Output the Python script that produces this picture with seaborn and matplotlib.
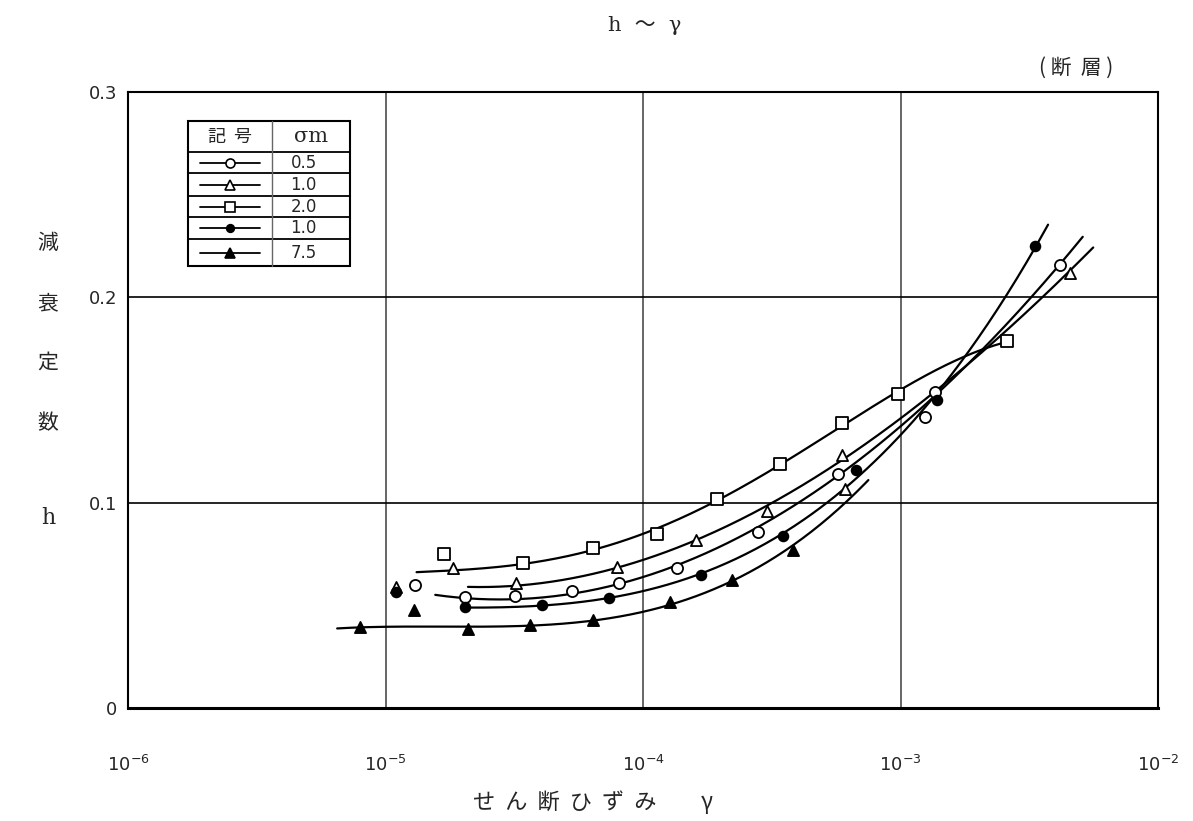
import numpy as np
import pandas as pd
import matplotlib
matplotlib.use('Agg')
import matplotlib.pyplot as plt
from matplotlib.patches import Rectangle
import seaborn as sns

# sigma_m of each series, in legend order
sigma_m = ["0.5", "1.0", "2.0", "1.0", "7.5"]

# points lying on the drawn curves (shear strain, damping h)
circ_x = [2.04e-5, 3.18e-5, 5.3e-5, 8.1e-5, 1.36e-4, 2.8e-4, 5.7e-4, 1.36e-3, 4.16e-3]
circ_y = [0.054, 0.0545, 0.057, 0.061, 0.068, 0.0856, 0.114, 0.1538, 0.216]
tri_x = [3.21e-5, 7.9e-5, 1.61e-4, 3.03e-4, 5.9e-4, 4.55e-3]
tri_y = [0.061, 0.0686, 0.0817, 0.0959, 0.123, 0.212]
sq_x = [3.42e-5, 6.4e-5, 1.13e-4, 1.94e-4, 3.4e-4, 5.93e-4, 9.8e-4, 2.59e-3]
sq_y = [0.0706, 0.078, 0.0847, 0.102, 0.119, 0.1387, 0.1528, 0.1786]
fcirc_x = [2.04e-5, 4.06e-5, 7.4e-5, 1.68e-4, 3.5e-4, 6.7e-4, 1.39e-3, 3.33e-3]
fcirc_y = [0.049, 0.050, 0.0535, 0.065, 0.084, 0.116, 0.150, 0.225]
ftri_x = [7.96e-6, 2.09e-5, 3.64e-5, 6.4e-5, 1.27e-4, 2.22e-4, 3.83e-4]
ftri_y = [0.0394, 0.0384, 0.0404, 0.0428, 0.0516, 0.0623, 0.077]

# scattered points not on the curves
circ_off_x, circ_off_y = [1.30e-5, 1.24e-3], [0.060, 0.1416]
tri_off_x, tri_off_y = [1.10e-5, 1.83e-5, 6.1e-4], [0.059, 0.068, 0.1066]
sq_off_x, sq_off_y = [1.69e-5], [0.075]
fcirc_off_x, fcirc_off_y = [1.10e-5], [0.0565]
ftri_off_x, ftri_off_y = [1.29e-5], [0.0477]

# where each hand-drawn curve begins and ends (None = at the marker)
curve_start = [(1.56e-5, 0.0535), (2.09e-5, 0.058), (1.32e-5, 0.066), None, (6.49e-6, 0.039)]
curve_end = [(5.1e-3, 0.229), (5.6e-3, 0.225), None, (3.74e-3, 0.2355), (7.5e-4, 0.112)]

jp = ['Noto Sans CJK JP', 'DejaVu Sans']

sns.set_style("white")
plt.rcParams['font.family'] = jp

fig = plt.figure(figsize=(11.93, 8.21), dpi=100)
ax = fig.add_axes([0.1073, 0.1376, 0.8634, 0.7503])

series = [
    (circ_x, circ_y, circ_off_x, circ_off_y, "o", "white", 8, 3),
    (tri_x, tri_y, tri_off_x, tri_off_y, "^", "white", 8, 3),
    (sq_x, sq_y, sq_off_x, sq_off_y, "s", "white", 9, 4),
    (fcirc_x, fcirc_y, fcirc_off_x, fcirc_off_y, "o", "black", 7, 3),
    (ftri_x, ftri_y, ftri_off_x, ftri_off_y, "^", "black", 8, 3),
]

for i, (xs, ys, ox, oy, mk, fc, ms, deg) in enumerate(series):
    kx, ky = list(xs), list(ys)
    if curve_start[i]:
        kx.insert(0, curve_start[i][0])
        ky.insert(0, curve_start[i][1])
    if curve_end[i]:
        kx.append(curve_end[i][0])
        ky.append(curve_end[i][1])
    # smooth hand-drawn-like curve: least squares polynomial in log strain
    lx = np.log10(kx)
    coef = np.polyfit(lx, ky, deg)
    grid = np.linspace(lx[0], lx[-1], 300)
    curve = pd.DataFrame({"x": 10 ** grid, "y": np.polyval(coef, grid)})
    sns.lineplot(data=curve, x="x", y="y", ax=ax, color="black", lw=1.6,
                 sort=False, zorder=3)
    pts = pd.DataFrame({"x": list(xs) + list(ox), "y": list(ys) + list(oy)})
    sns.scatterplot(data=pts, x="x", y="y", ax=ax, marker=mk, s=ms ** 2,
                    facecolor=fc, edgecolor="black", linewidth=1.3, zorder=4)

ax.set_xscale("log")
ax.set_xlim(1e-6, 1e-2)
ax.set_ylim(0, 0.3)
ax.set_xticks([1e-6, 1e-5, 1e-4, 1e-3, 1e-2])
ax.set_xticklabels([r"$10^{-6}$", r"$10^{-5}$", r"$10^{-4}$", r"$10^{-3}$", r"$10^{-2}$"],
                   fontsize=13, family="DejaVu Serif")
ax.minorticks_off()
ax.set_yticks([0, 0.1, 0.2, 0.3])
ax.set_yticklabels(["0", "0.1", "0.2", "0.3"], fontsize=13, family="DejaVu Sans")
ax.tick_params(axis="x", length=0, pad=34)
ax.tick_params(axis="y", length=0, pad=8)
ax.set_xlabel("")
ax.set_ylabel("")

for v in [1e-5, 1e-4, 1e-3]:
    ax.axvline(v, color="0.3", lw=1.2, zorder=1)
for v in [0.1, 0.2]:
    ax.axhline(v, color="black", lw=1.2, zorder=1)
for s in ax.spines.values():
    s.set_color("black")
    s.set_linewidth(1.5)
ax.spines["bottom"].set_linewidth(2.2)

# legend table
tr = ax.transAxes
left, right, mid = 0.058, 0.2155, 0.1398
rows = [0.9529, 0.9026, 0.8685, 0.8312, 0.7971, 0.7614, 0.7175]
ax.add_patch(Rectangle((left, rows[-1]), right - left, rows[0] - rows[-1],
                       transform=tr, fill=True, facecolor="white",
                       edgecolor="black", lw=1.5, zorder=5))
for r in rows[1:-1]:
    ax.plot([left, right], [r, r], transform=tr, color="black", lw=1.3, zorder=6)
ax.plot([mid, mid], [rows[0], rows[-1]], transform=tr, color="0.4", lw=1.0, zorder=6)
hy = (rows[0] + rows[1]) / 2
ax.text((left + mid) / 2, hy, "記  号", transform=tr, ha="center", va="center",
        fontsize=13, zorder=7)
ax.text((mid + right) / 2, hy, "σm", transform=tr, ha="center", va="center",
        fontsize=15, family="DejaVu Serif", zorder=7)
for k, (xs, ys, ox, oy, mk, fc, ms, deg) in enumerate(series):
    yy = (rows[k + 1] + rows[k + 2]) / 2
    ax.plot([left + 0.012, mid - 0.012], [yy, yy], transform=tr, color="black",
            lw=1.3, zorder=7)
    ax.plot([(left + mid) / 2], [yy], transform=tr, marker=mk, ms=ms - 1.5,
            mfc=fc, mec="black", mew=1.2, zorder=8)
    ax.text(mid + 0.018, yy, sigma_m[k], transform=tr, ha="left", va="center",
            fontsize=12, family="DejaVu Sans", zorder=7)

fig.text(0.54, 0.969, "h  ～  γ", ha="center", va="center", fontsize=15,
         family=['DejaVu Serif', 'Noto Sans CJK JP'])
fig.text(0.902, 0.917, "( 断  層 )", ha="center", va="center", fontsize=15)
for ch, py in zip(["減", "衰", "定", "数"], [243, 303, 363, 423]):
    fig.text(48 / 1193, 1 - py / 821, ch, ha="center", va="center", fontsize=15)
fig.text(48 / 1193, 1 - 518 / 821, "h", ha="center", va="center", fontsize=16,
         family="DejaVu Serif")
fig.text(0.497, 1 - 802 / 821, "せ  ん  断  ひ  ず  み　　γ", ha="center", va="center",
         fontsize=16)

fig.savefig("out.png", dpi=100)
